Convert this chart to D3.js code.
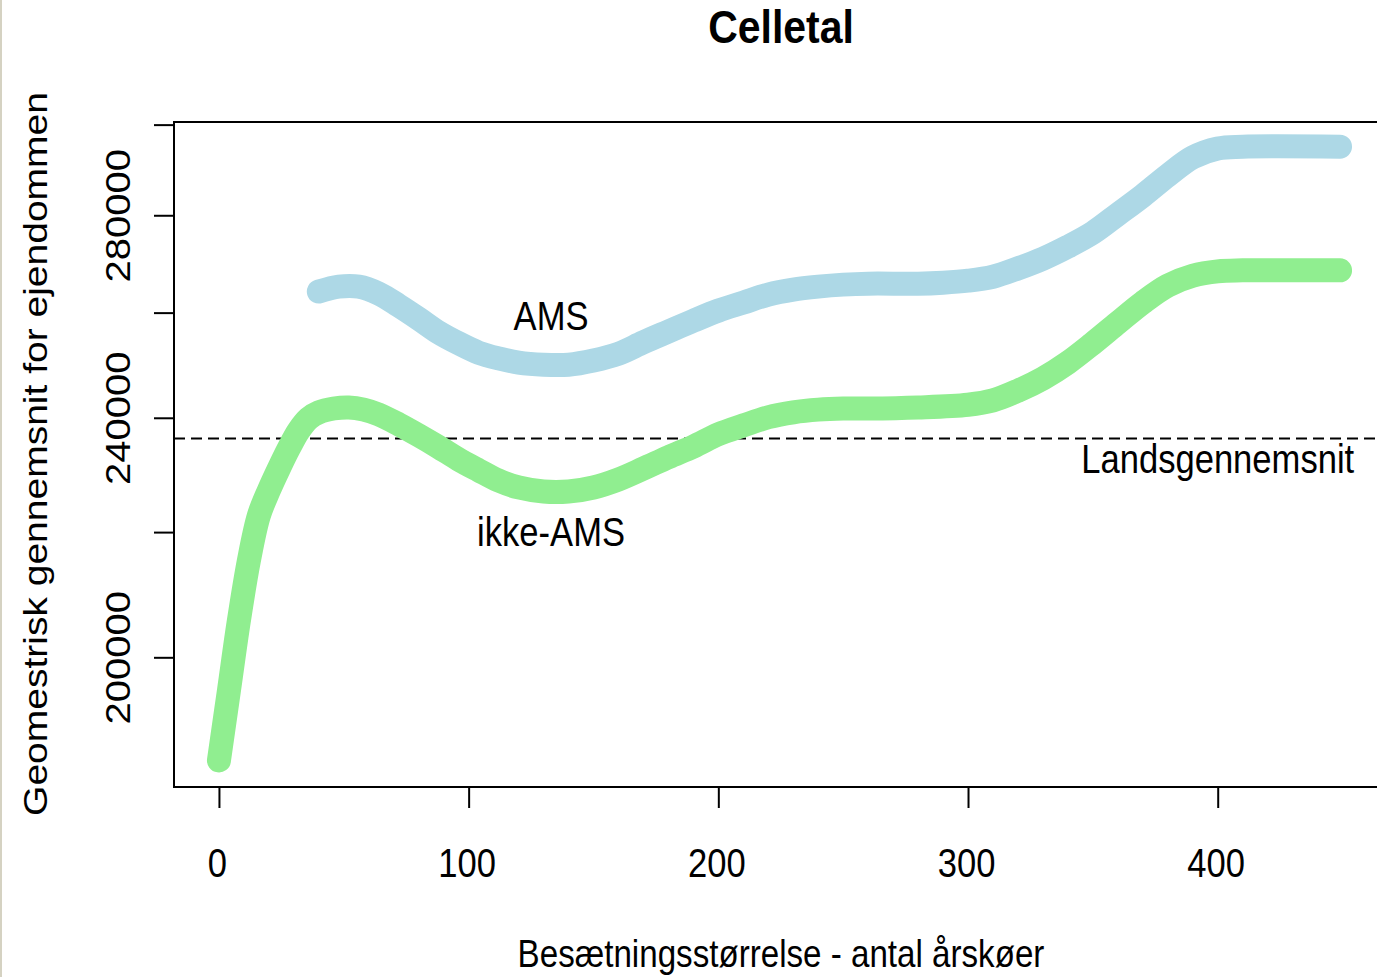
<!DOCTYPE html>
<html>
<head>
<meta charset="utf-8">
<script src="https://cdn.jsdelivr.net/npm/d3@7"></script>
<style>
body { margin: 0; background: #fff; }
svg { display: block; }
text { font-family: "Liberation Sans", Arial, sans-serif; fill: #000; }
</style>
</head>
<body>
<div id="chart"></div>
<script>
// data
var amsX = [40, 48, 56, 64, 72, 80, 88, 96, 104, 112, 120, 130, 140, 150, 160, 170, 180, 190, 200, 210, 220, 230, 240, 250, 260, 280, 290, 300, 310, 320, 330, 340, 350, 360, 370, 380, 390, 400, 410, 449];
var amsY = [264200, 265200, 265200, 263800, 261400, 258800, 256100, 254000, 252200, 251100, 250300, 249900, 249900, 250700, 252000, 254200, 256300, 258400, 260400, 262000, 263600, 264600, 265200, 265600, 265800, 265800, 266000, 266400, 267200, 268900, 270900, 273400, 276300, 280200, 284200, 288600, 292600, 294600, 295000, 295000];

var ikkeX = [0, 4, 8, 12, 16, 20, 24, 28, 32, 36, 40, 46, 52, 58, 64, 72, 80, 88, 96, 104, 112, 120, 130, 140, 150, 160, 170, 180, 190, 200, 210, 220, 230, 240, 250, 260, 280, 300, 310, 320, 330, 340, 350, 360, 370, 380, 390, 400, 410, 449];
var ikkeY = [184900, 195000, 205700, 215300, 222800, 227100, 230900, 234500, 237700, 239900, 241000, 241700, 241900, 241500, 240600, 238800, 236800, 234700, 232500, 230600, 228800, 227600, 226900, 226900, 227600, 229000, 230900, 232900, 234800, 237000, 238600, 240100, 241000, 241500, 241700, 241700, 241900, 242400, 243200, 245000, 247300, 250300, 254000, 258000, 262000, 265400, 267400, 268300, 268500, 268500];

var landsgennemsnit = 236250;

var xTicks = [0, 100, 200, 300, 400];
var yTicks = [200000, 220000, 240000, 260000, 280000, 300000];
var yTickLabels = [200000, 240000, 280000];

var labelText = ["AMS", "ikke-AMS", "Landsgennemsnit"];
var labelX = [133, 133, 400];
var labelY = [259400, 220000, 232500];

var W = 1377, H = 977;
var squeeze = 0.865;

var svg = d3.select("#chart").append("svg")
	.attr("width", W)
	.attr("height", H);

svg.append("rect").attr("width", W).attr("height", H).attr("fill", "#fff");
// thin frame strip on the left edge
svg.append("rect").attr("x", 0).attr("y", 0).attr("width", 2).attr("height", H).attr("fill", "#d5d2c2");

var x = d3.scaleLinear().domain([-18, 467]).range([174, 1385]);
var y = d3.scaleLog().domain([181200, 300600]).range([787, 122]);

var plot = svg.append("g");

// dashed national average
plot.append("line")
	.attr("x1", x(-18)).attr("x2", x(467))
	.attr("y1", y(landsgennemsnit)).attr("y2", y(landsgennemsnit))
	.attr("stroke", "#000")
	.attr("stroke-width", 2)
	.attr("stroke-dasharray", "11,6");

var line = d3.line()
	.x(function(d){ return x(d[0]); })
	.y(function(d){ return y(d[1]); })
	.curve(d3.curveCatmullRom);

var amsPts = amsX.map(function(v, i){ return [v, amsY[i]]; });
var ikkePts = ikkeX.map(function(v, i){ return [v, ikkeY[i]]; });

plot.append("path")
	.attr("d", line(amsPts))
	.attr("fill", "none")
	.attr("stroke", "#add8e6")
	.attr("stroke-width", 24)
	.attr("stroke-linecap", "round")
	.attr("stroke-linejoin", "round");

plot.append("path")
	.attr("d", line(ikkePts))
	.attr("fill", "none")
	.attr("stroke", "#90ee90")
	.attr("stroke-width", 24)
	.attr("stroke-linecap", "round")
	.attr("stroke-linejoin", "round");

// box
svg.append("rect")
	.attr("x", x(-18)).attr("y", y(300600))
	.attr("width", x(467) - x(-18))
	.attr("height", y(181200) - y(300600))
	.attr("fill", "none")
	.attr("stroke", "#000")
	.attr("stroke-width", 2);

// x axis
var xAxis = svg.append("g")
	.attr("transform", "translate(0,787)")
	.call(d3.axisBottom(x).tickValues(xTicks).tickSize(21).tickFormat(d3.format("d")));
xAxis.select(".domain").remove();
xAxis.selectAll(".tick line").attr("stroke", "#000").attr("stroke-width", 2);
xAxis.selectAll(".tick text")
	.attr("y", null).attr("dy", null)
	.attr("fill", "#000")
	.style("font-size", "40px")
	.attr("text-anchor", "middle")
	.attr("transform", "translate(-2,90) scale(" + squeeze + ",1)");

// y axis
var yAxis = svg.append("g")
	.attr("transform", "translate(174,0)")
	.call(d3.axisLeft(y).tickValues(yTicks).tickSize(20)
		.tickFormat(function(d){ return yTickLabels.indexOf(d) >= 0 ? String(d) : ""; }));
yAxis.select(".domain").remove();
yAxis.selectAll(".tick line").attr("stroke", "#000").attr("stroke-width", 2);
yAxis.selectAll(".tick text")
	.attr("x", null).attr("dy", null)
	.attr("fill", "#000")
	.style("font-size", "40px")
	.attr("text-anchor", "middle")
	.attr("transform", "translate(-44,0) scale(" + squeeze + ",1) rotate(-90)");

// curve labels
for (var i = 0; i < labelText.length; ++i) {
	svg.append("text")
		.attr("transform", "translate(" + x(labelX[i]) + "," + (y(labelY[i]) + 14) + ") scale(" + squeeze + ",1)")
		.attr("text-anchor", "middle")
		.style("font-size", "40px")
		.text(labelText[i]);
}

// titles
svg.append("text")
	.attr("transform", "translate(781,43) scale(0.89,1)")
	.attr("text-anchor", "middle")
	.style("font-size", "46px")
	.style("font-weight", "bold")
	.text("Celletal");

svg.append("text")
	.attr("transform", "translate(781,967) scale(0.85,1)")
	.attr("text-anchor", "middle")
	.style("font-size", "39px")
	.text("Besætningsstørrelse - antal årskøer");

svg.append("text")
	.attr("transform", "translate(47,454) scale(" + squeeze + ",1) rotate(-90)")
	.attr("text-anchor", "middle")
	.style("font-size", "39px")
	.text("Geomestrisk gennemsnit for ejendommen");
</script>
</body>
</html>
